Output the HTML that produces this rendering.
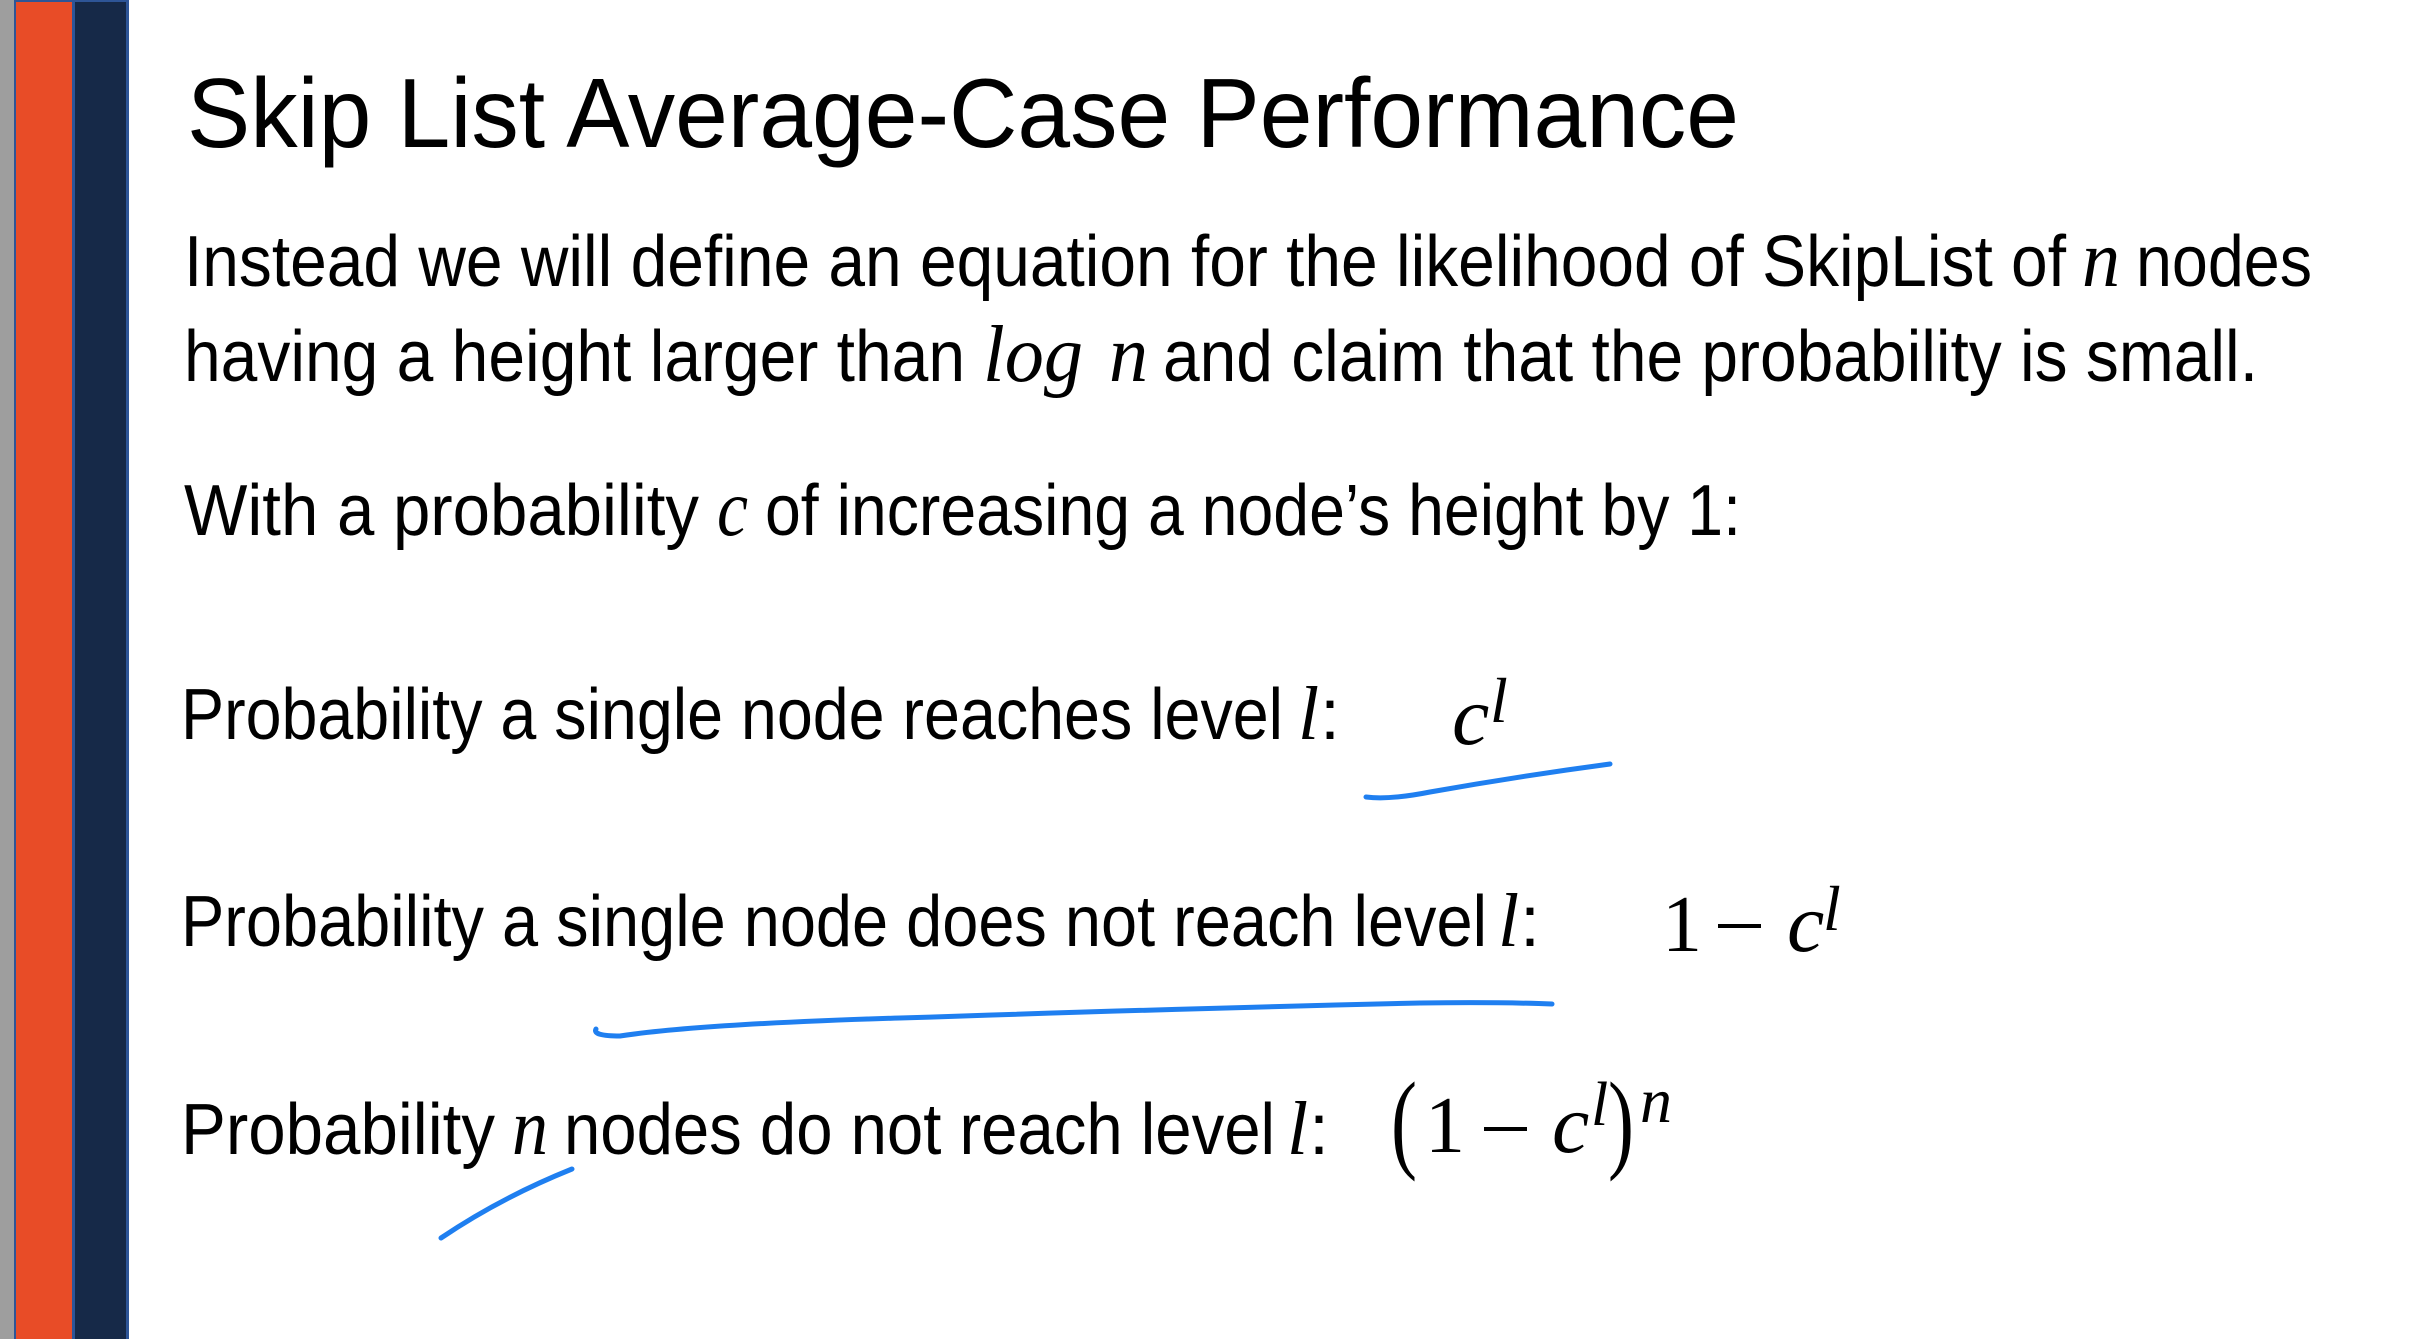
<!DOCTYPE html>
<html><head><meta charset="utf-8"><style>
html,body{margin:0;padding:0;background:#fff}
svg{display:block}
.s{font-family:"Liberation Sans",sans-serif;fill:#000}
.m{font-family:"Liberation Serif",serif;font-style:italic;fill:#000}
.r{font-family:"Liberation Serif",serif;fill:#000}
.ink{fill:none;stroke:#1f7ff0;stroke-width:5;stroke-linecap:round}
</style></head><body>
<svg width="2409" height="1339" viewBox="0 0 2409 1339">
<rect x="0" y="0" width="14" height="1339" fill="#9e9e9e"/>
<rect x="14" y="0" width="115" height="1339" fill="#2e5597"/>
<rect x="16" y="2" width="56" height="1337" fill="#e84c27"/>
<rect x="75" y="2" width="51" height="1337" fill="#162948"/>

<text class="s" x="187" y="147" font-size="98" textLength="1552" lengthAdjust="spacingAndGlyphs">Skip List Average-Case Performance</text>

<g font-size="72">
<text class="s" x="184" y="286" textLength="1882" lengthAdjust="spacingAndGlyphs">Instead we will define an equation for the likelihood of SkipList of</text>
<text class="m" x="2082" y="286" font-size="80" textLength="38" lengthAdjust="spacingAndGlyphs">n</text>
<text class="s" x="2136" y="286" textLength="176" lengthAdjust="spacingAndGlyphs">nodes</text>
<text class="s" x="184" y="381" textLength="781" lengthAdjust="spacingAndGlyphs">having a height larger than</text>
<text class="m" x="983" y="381" font-size="80" textLength="100" lengthAdjust="spacingAndGlyphs">log</text>
<text class="m" x="1109" y="381" font-size="80" textLength="39" lengthAdjust="spacingAndGlyphs">n</text>
<text class="s" x="1163" y="381" textLength="1095" lengthAdjust="spacingAndGlyphs">and claim that the probability is small.</text>
</g>

<g font-size="72">
<text class="s" x="184" y="535" textLength="515" lengthAdjust="spacingAndGlyphs">With a probability</text>
<text class="m" x="717" y="535" font-size="80" textLength="31" lengthAdjust="spacingAndGlyphs">c</text>
<text class="s" x="765" y="535" textLength="976" lengthAdjust="spacingAndGlyphs">of increasing a node’s height by 1:</text>
</g>

<g font-size="72">
<text class="s" x="181" y="739" textLength="1102" lengthAdjust="spacingAndGlyphs">Probability a single node reaches level</text>
<text class="m" x="1298" y="739" font-size="76">l</text>
<text class="s" x="1320" y="739">:</text>
<g>
<text class="m" x="1452" y="744" font-size="84">c</text>
<text class="m" x="1490" y="722" font-size="64">l</text>
</g>
</g>

<g font-size="72">
<text class="s" x="181" y="946" textLength="1306" lengthAdjust="spacingAndGlyphs">Probability a single node does not reach level</text>
<text class="m" x="1498" y="946" font-size="76">l</text>
<text class="s" x="1520" y="946">:</text>
<g>
<text class="r" x="1662" y="951" font-size="80">1</text>
<rect x="1718" y="924" width="43" height="4" fill="#000"/>
<text class="m" x="1787" y="951" font-size="84">c</text>
<text class="m" x="1823" y="930" font-size="64">l</text>
</g>
</g>

<g font-size="72">
<text class="s" x="181" y="1154" textLength="314" lengthAdjust="spacingAndGlyphs">Probability</text>
<text class="m" x="512" y="1154" font-size="80" textLength="36" lengthAdjust="spacingAndGlyphs">n</text>
<text class="s" x="564" y="1154" textLength="711" lengthAdjust="spacingAndGlyphs">nodes do not reach level</text>
<text class="m" x="1287" y="1154" font-size="76">l</text>
<text class="s" x="1309" y="1154">:</text>
<g>
<text class="r" x="1391" y="1158" font-size="110" textLength="26" lengthAdjust="spacingAndGlyphs">(</text>
<text class="r" x="1425" y="1152" font-size="80">1</text>
<rect x="1484" y="1127" width="43" height="4" fill="#000"/>
<text class="m" x="1552" y="1152" font-size="84">c</text>
<text class="m" x="1591" y="1125" font-size="62">l</text>
<text class="r" x="1608" y="1158" font-size="110" textLength="26" lengthAdjust="spacingAndGlyphs">)</text>
<text class="m" x="1640" y="1122" font-size="64">n</text>
</g>
</g>

<g>
<path class="ink" d="M1366 797 Q1390 800 1430 792 Q1520 776 1610 764"/>
<path class="ink" d="M596 1029 Q592 1036 620 1036 Q700 1024 900 1018 Q1200 1008 1420 1003 Q1500 1002 1552 1004"/>
<path class="ink" d="M441 1238 Q500 1198 572 1169"/>
</g>
</svg>
</body></html>
